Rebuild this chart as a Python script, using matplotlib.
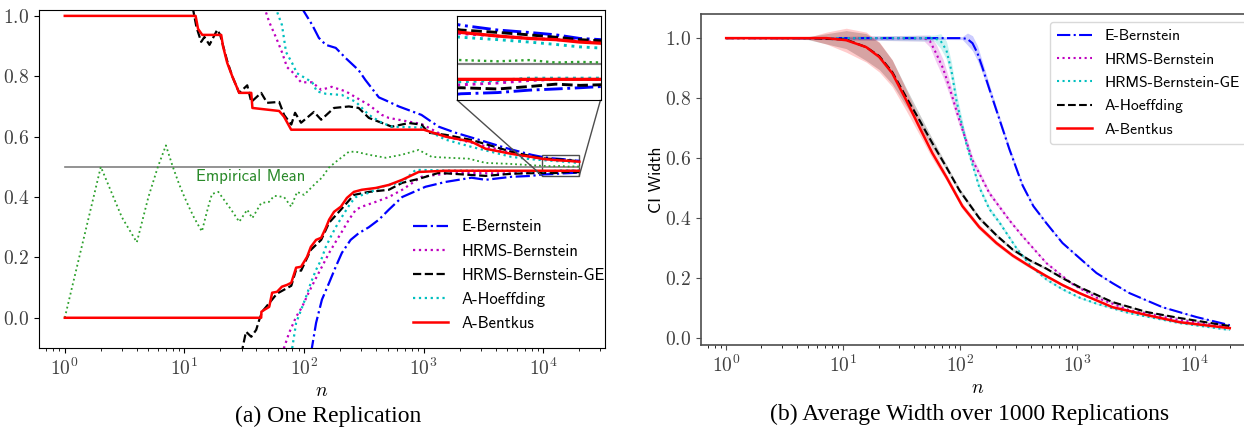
import numpy as np
import matplotlib
matplotlib.use("Agg")
import matplotlib.pyplot as plt
from mpl_toolkits.axes_grid1.inset_locator import mark_inset

plt.rcParams['font.family'] = 'cmr10'
plt.rcParams['mathtext.fontset'] = 'cm'
plt.rcParams['axes.formatter.use_mathtext'] = True

# ---------------- (a) one replication: upper / lower confidence bounds ----------------
true_mean = 0.5
n_max = 20000

emp_n = [1, 2, 3, 4, 5, 6, 7, 8, 9, 10, 11, 12, 13, 14, 15, 16, 17, 19.2, 24.6, 28.7, 33.5,
         36.9, 43.8, 51, 56.2, 68, 78, 87.5, 100, 126, 141, 161, 185, 237, 271, 348, 482,
         656, 908, 1166, 1616, 2371, 3286, 5108, 10000, 12000, 14000, 16000, 18000, 20000]
emp_v = [0, .5, .333, .25, .4, .5, .571, .5, .444, .4, .364, .333, .308, .286, .333, .375,
         .41, .417, .358, .318, .358, .33, .38, .384, .404, .40, .368, .417, .407, .447,
         .464, .497, .517, .55, .55, .54, .53, .54, .556, .533, .53, .527, .513, .51, .503,
         .502, .503, .501, .5015, .501]

ebern_up_n = [94.4, 117, 133, 152, 184, 223, 286, 325, 422, 482, 619, 958, 1333, 1843, 2873,
              4800, 7943, 10000, 12000, 14000, 16000, 18000, 20000]
ebern_up_v = [1.03, .97, .927, .904, .894, .86, .82, .788, .73, .72, .70, .672, .633, .613,
              .59, .563, .54, .532, .528, .526, .524, .521, .52]
ebern_lo_n = [114, 126, 141, 162, 184, 207, 245, 286, 348, 422, 511, 661, 1036, 1525, 2512,
              3286, 5412, 7943, 10000, 12000, 14000, 16000, 18000, 20000]
ebern_lo_v = [-.12, -.017, .06, .116, .169, .215, .258, .28, .30, .325, .358, .40, .434, .45,
              .464, .457, .467, .47, .475, .476, .478, .479, .48, .481]

hrms_up_n = [46.4, 51.1, 58.5, 65.3, 72.1, 79.4, 94.4, 117, 139, 170, 223, 271, 348, 447, 511,
             958, 1525, 2512, 5412, 7943, 10000, 12000, 14000, 16000, 18000, 20000]
hrms_up_v = [1.03, .98, .927, .88, .83, .815, .78, .78, .755, .765, .75, .73, .705, .672, .662,
             .642, .60, .58, .546, .53, .525, .523, .521, .52, .519, .5175]
hrms_lo_n = [65.3, 75, 85.8, 96.3, 110, 126, 141, 162, 184, 207, 237, 271, 304, 398, 511, 661,
             958, 1714, 5000, 10000, 12000, 14000, 16000, 18000, 20000]
hrms_lo_v = [-.12, -.05, .003, .036, .086, .132, .169, .215, .252, .285, .325, .358, .368, .384,
             .40, .424, .467, .48, .478, .4825, .484, .486, .487, .487, .487]

hrmsge_up_n = [11.7, 12.6, 13.8, 14.7, 16.2, 18.8, 19.9, 22.8, 25.1, 28.7, 33.5, 36.2, 43.8,
               49.1, 61.9, 68.1, 78.2, 84.1, 94.4, 121, 139, 178, 237, 286, 348, 541, 750, 958,
               1097, 1525, 2512, 5412, 7943, 10000, 12000, 14000, 16000, 18000, 20000]
hrmsge_up_v = [1.03, .963, .914, .93, .904, .954, .937, .85, .80, .745, .77, .715, .745, .712,
               .715, .672, .64, .679, .646, .682, .656, .695, .70, .695, .662, .633, .645, .64,
               .613, .606, .589, .55, .535, .528, .526, .524, .522, .52, .519]
hrmsge_lo_n = [29.9, 32.7, 36.2, 39.8, 42.2, 44.6, 59.4, 78.2, 85.8, 94.4, 114, 139, 162, 203,
               261, 348, 511, 661, 908, 1333, 3286, 5412, 10000, 12000, 14000, 16000, 18000,
               20000]
hrmsge_lo_v = [-.12, -.046, -.063, -.04, -.007, .02, .08, .106, .159, .156, .225, .258, .315,
               .358, .407, .417, .424, .447, .46, .48, .47, .477, .48, .479, .481, .483, .482,
               .4825]

ahoef_up_n = [57.4, 65.3, 70.7, 79.4, 87.3, 96.3, 117, 128, 152, 207, 271, 348, 447, 541, 958,
              1525, 2512, 5412, 7943, 10000, 12000, 14000, 16000, 18000, 20000]
ahoef_up_v = [1.03, .97, .88, .844, .81, .80, .78, .75, .742, .738, .715, .672, .646, .633, .63,
              .59, .566, .533, .525, .522, .52, .518, .516, .514, .513]
ahoef_lo_n = [78.2, 85.8, 94.4, 104, 114, 126, 139, 152, 167, 184, 207, 245, 271, 348, 447, 661,
              858, 1500, 5000, 10000, 12000, 14000, 16000, 18000, 20000]
ahoef_lo_v = [-.12, -.017, .026, .07, .116, .159, .192, .235, .268, .30, .334, .38, .40, .414,
              .434, .45, .49, .488, .486, .485, .486, .488, .488, .488, .488]

abent_up_n = [1, 12.4, 13, 14.1, 20.3, 21, 22.8, 25.1, 28.7, 36.2, 37, 61.9, 68, 78, 1000, 1525,
              2512, 3286, 5412, 7943, 10000, 12000, 14000, 16000, 18000, 20000]
abent_up_v = [1.0, 1.0, .957, .937, .937, .90, .844, .80, .745, .745, .695, .685, .666, .623,
              .623, .60, .583, .56, .543, .533, .526, .523, .521, .52, .518, .517]
abent_lo_n = [1, 43.8, 44, 46.4, 51.1, 54.1, 59.4, 65.3, 72.1, 78.2, 85.8, 94.4, 106, 114, 126,
              139, 152, 162, 178, 203, 228, 261, 304, 398, 511, 661, 908, 1525, 20000]
abent_lo_v = [0, 0, .02, .026, .036, .083, .086, .103, .109, .116, .166, .169, .202, .235, .258,
              .265, .298, .325, .351, .368, .397, .417, .424, .43, .44, .457, .483, .487, .487]

left_labels = ['E-Bernstein', 'HRMS-Bernstein', 'HRMS-Bernstein-GE', 'A-Hoeffding', 'A-Bentkus']

# ---------------- (b) average width over 1000 replications ----------------
w_ebern_n = [1, 104, 115, 127, 140, 154, 177, 203, 262, 339, 420, 543, 745, 1040, 1453, 1995,
             2780, 5320, 10400, 20000]
w_ebern_v = [1, 1, .997, .983, .95, .903, .83, .76, .63, .51, .44, .383, .317, .267, .217, .183,
             .15, .103, .07, .043]
w_ebern_sd = [0, .005, .02, .025, .025, .02, .015, .012, .01, .008, .006, .005, .004, .004, .003,
              .003, .002, .002, .002, .002]

w_hrms_n = [1, 49, 55, 62, 71, 80.5, 98, 127, 177, 262, 339, 543, 906, 1453, 2780, 7450, 20000]
w_hrms_v = [1, 1, .99, .95, .9, .837, .727, .593, .483, .393, .34, .25, .18, .135, .093, .06, .037]
w_hrms_sd = [0, .01, .02, .03, .03, .025, .02, .012, .008, .006, .005, .004, .003, .003, .002,
             .002, .002]

w_hrmsge_n = [1, 60, 68, 76, 84, 92.5, 112, 145, 177, 216, 301, 400, 545, 745, 1040, 1453, 2780,
              7450, 20000]
w_hrmsge_v = [1, 1, .99, .96, .89, .793, .65, .503, .43, .385, .30, .24, .195, .163, .135, .115,
              .083, .05, .027]
w_hrmsge_sd = [0, .01, .025, .03, .03, .025, .018, .01, .008, .007, .006, .005, .004, .004, .003,
               .003, .002, .002, .002]

w_ahoef_n = [1, 5, 10.6, 15.7, 20.3, 26.2, 34.5, 44.7, 57.6, 75.9, 98, 145, 203, 280, 389, 540,
             745, 1040, 1995, 3890, 7440, 20000]
w_ahoef_v = [1, 1, .995, .97, .94, .887, .803, .727, .65, .57, .493, .40, .343, .295, .26, .232,
             .2, .17, .12, .087, .067, .04]
w_ahoef_sd = [0, .005, .03, .045, .045, .04, .03, .02, .015, .01, .008, .007, .006, .005, .005,
              .004, .004, .003, .003, .002, .002, .002]

w_abent_n = [1, 5, 7.2, 10.6, 15.7, 20.3, 26.2, 34.5, 44.7, 57.6, 75.9, 104, 145, 203, 280, 389,
             540, 745, 1040, 1995, 3890, 7440, 20000]
w_abent_v = [1, 1, 1.0, .993, .97, .937, .883, .793, .703, .617, .537, .44, .37, .317, .275, .24,
             .207, .177, .15, .103, .077, .053, .033]
w_abent_sd = [0, .003, .02, .04, .05, .05, .045, .035, .025, .018, .012, .01, .009, .008, .007,
              .006, .005, .005, .004, .003, .003, .002, .002]

right_labels = ['E-Bernstein', 'HRMS-Bernstein', 'HRMS-Bernstein-GE', 'A-Hoeffding', 'A-Bentkus']

# styles
left_style = [('b', '-.'), ('m', ':'), ('k', '--'), ('c', ':'), ('r', '-')]
right_style = [('b', '-.'), ('m', ':'), ('c', ':'), ('k', '--'), ('r', '-')]

left_bounds = [(ebern_up_n, ebern_up_v, ebern_lo_n, ebern_lo_v),
               (hrms_up_n, hrms_up_v, hrms_lo_n, hrms_lo_v),
               (hrmsge_up_n, hrmsge_up_v, hrmsge_lo_n, hrmsge_lo_v),
               (ahoef_up_n, ahoef_up_v, ahoef_lo_n, ahoef_lo_v),
               (abent_up_n, abent_up_v, abent_lo_n, abent_lo_v)]
right_widths = [(w_ebern_n, w_ebern_v, w_ebern_sd),
                (w_hrms_n, w_hrms_v, w_hrms_sd),
                (w_hrmsge_n, w_hrmsge_v, w_hrmsge_sd),
                (w_ahoef_n, w_ahoef_v, w_ahoef_sd),
                (w_abent_n, w_abent_v, w_abent_sd)]

sans = 'cmss10'
fig = plt.figure(figsize=(12.44, 4.28), dpi=100)

# ---- left panel ----
ax1 = fig.add_axes([0.0314, 0.187, 0.455, 0.790])


def draw_bounds(ax, lw_scale=1.0, with_label=True):
    ax.plot([1, n_max], [true_mean, true_mean], color='0.5', lw=1.2 * lw_scale)
    ax.plot(emp_n, emp_v, color='#2ca02c', ls=':', lw=1.3 * lw_scale)
    for (un, uv, ln, lv), (col, ls), lab in zip(left_bounds, left_style, left_labels):
        lw = 1.8 if col == 'r' else 1.6
        ax.plot(un, uv, color=col, ls=ls, lw=lw * lw_scale, label=lab if with_label else None)
        ax.plot(ln, lv, color=col, ls=ls, lw=lw * lw_scale)


draw_bounds(ax1)
ax1.set_xscale('log')
ax1.set_xlim(10 ** -0.215, 10 ** 4.516)
ax1.set_ylim(-0.1, 1.02)
ax1.set_yticks([0.0, 0.2, 0.4, 0.6, 0.8, 1.0])
ax1.set_xlabel('$n$', fontsize=14, labelpad=2)
ax1.tick_params(labelsize=14, labelcolor='0.25')
ax1.text(35.5, 0.467, 'Empirical Mean', color='#2a8a2a', fontsize=12, family=sans,
         ha='center', va='center')
ax1.legend(loc='lower right', bbox_to_anchor=(1.012, 0.03), frameon=False,
           prop={'family': sans, 'size': 12}, handlelength=2.1, borderaxespad=0.0,
           labelspacing=0.55)

axins = ax1.inset_axes([0.738, 0.734, 0.254, 0.249])
draw_bounds(axins, lw_scale=1.3, with_label=False)
axins.set_xscale('log')
axins.set_xlim(9800, 19950)
axins.set_ylim(0.47, 0.54)
axins.set_xticks([])
axins.set_yticks([])
axins.minorticks_off()
mark_inset(ax1, axins, loc1=3, loc2=4, fc='none', ec='0.3', lw=1.0)

# ---- right panel ----
ax2 = fig.add_axes([0.5635, 0.194, 0.4453, 0.773])
for (wn, wv, wsd), (col, ls), lab in zip(right_widths, right_style, right_labels):
    wv_a = np.array(wv)
    sd_a = np.array(wsd)
    ax2.fill_between(wn, wv_a - sd_a, wv_a + sd_a, color=col, alpha=0.2, lw=0)
    lw = 1.8 if col == 'r' else 1.5
    ax2.plot(wn, wv, color=col, ls=ls, lw=lw, label=lab)
ax2.set_xscale('log')
ax2.set_xlim(10 ** -0.215, 10 ** 4.516)
ax2.set_ylim(-0.023, 1.08)
ax2.set_yticks([0.0, 0.2, 0.4, 0.6, 0.8, 1.0])
ax2.set_xlabel('$n$', fontsize=14, labelpad=2)
ax2.set_ylabel('CI Width', family=sans, fontsize=12.5, labelpad=1)
ax2.tick_params(labelsize=14, labelcolor='0.25', color='0.3')
for sp in ax2.spines.values():
    sp.set_color('0.3')
    sp.set_linewidth(1.2)
ax2.legend(loc='upper left', bbox_to_anchor=(0.63, 0.976),
           prop={'family': sans, 'size': 11.3}, handlelength=2.2,
           handletextpad=0.8, borderpad=0.45, labelspacing=0.6, framealpha=1.0,
           edgecolor='0.85', borderaxespad=0.0)

# captions
fig.text(0.2637, 0.027, '(a) One Replication', family='Liberation Serif', fontsize=17,
         ha='center', va='center')
fig.text(0.779, 0.032, '(b) Average Width over 1000 Replications', family='Liberation Serif',
         fontsize=17, ha='center', va='center')

fig.savefig('out.png', dpi=100)
